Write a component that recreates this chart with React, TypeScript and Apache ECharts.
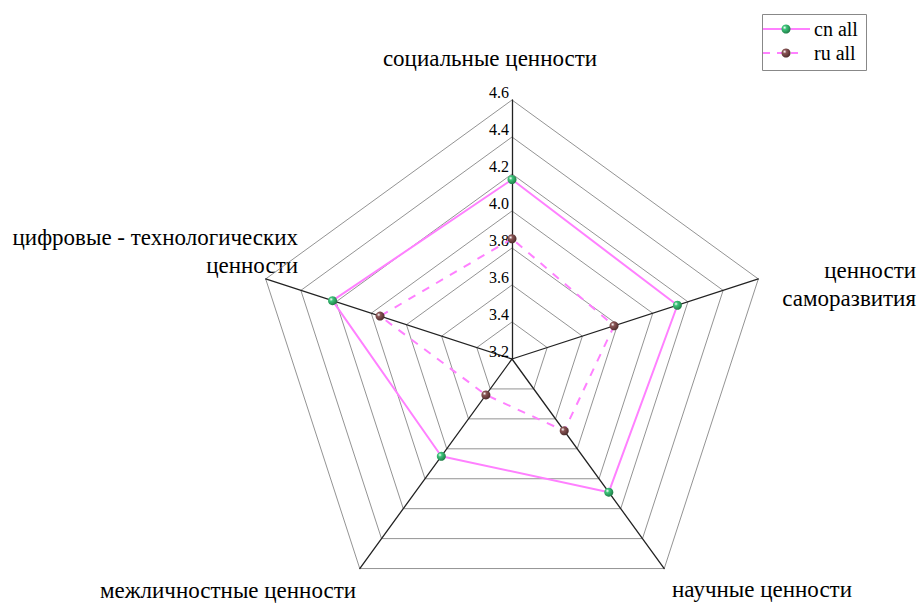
import React, { useEffect, useRef } from "react";
import * as echarts from "echarts";

// Indicators in ECharts order (counter-clockwise from the top)
const categories = [
  "социальные ценности",
  "цифровые - технологических ценности",
  "межличностные ценности",
  "научные ценности",
  "ценности саморазвития",
];
const cnAll = [4.17, 4.22, 3.85, 4.09, 4.14];
const ruAll = [3.85, 3.95, 3.44, 3.68, 3.78];
const seriesNames = ["cn all", "ru all"];
const axisMin = 3.2;
const axisMax = 4.6;
const axisStep = 0.2;

const FONT = "Liberation Serif, serif";
const LINE = "#ff80ff";

const ball = (c1: string, c2: string) => ({
  type: "radial",
  x: 0.35,
  y: 0.35,
  r: 0.7,
  colorStops: [
    { offset: 0, color: "#ffffff" },
    { offset: 0.3, color: c1 },
    { offset: 1, color: c2 },
  ],
});
const greenBall = ball("#3cc47a", "#1f7a45");
const brownBall = ball("#8a5555", "#4a2a2a");

export default function App() {
  const ref = useRef<HTMLDivElement>(null);
  useEffect(() => {
    if (!ref.current) return;
    const chart = echarts.init(ref.current, undefined, { renderer: "svg" });
    const labelPos = [
      { x: 490, y: 58, align: "center" },
      { x: 298, y: 251, align: "right" },
      { x: 228, y: 590, align: "center" },
      { x: 762, y: 589, align: "center" },
      { x: 916, y: 284, align: "right" },
    ];
    const catLabels = categories.map((c, i) => {
      const p = labelPos[i];
      const words =
        i === 4 ? c.replace(" ", "\n") : i === 1 ? c.replace(" ценности", "\nценности") : c;
      return {
        type: "text",
        x: p.x,
        y: p.y,
        style: {
          text: words,
          fontSize: 23,
          fontFamily: FONT,
          fill: "#000",
          align: p.align,
          verticalAlign: "middle",
          lineHeight: 28,
        },
      };
    });
    const legend = [
      {
        type: "rect",
        shape: { x: 762.5, y: 14.5, width: 104, height: 56 },
        style: { fill: "#fff", stroke: "#888", lineWidth: 1 },
      },
      {
        type: "line",
        shape: { x1: 763, y1: 29, x2: 810, y2: 29 },
        style: { stroke: LINE, lineWidth: 2 },
      },
      {
        type: "circle",
        shape: { cx: 786, cy: 29, r: 4.5 },
        style: { fill: greenBall },
      },
      {
        type: "text",
        x: 814,
        y: 29,
        style: { text: seriesNames[0], fontSize: 20, fontFamily: FONT, fill: "#000", verticalAlign: "middle" },
      },
      {
        type: "line",
        shape: { x1: 763, y1: 53, x2: 802, y2: 53 },
        style: { stroke: LINE, lineWidth: 2, lineDash: [7, 7] },
      },
      {
        type: "circle",
        shape: { cx: 786, cy: 53, r: 4.5 },
        style: { fill: brownBall },
      },
      {
        type: "text",
        x: 814,
        y: 53,
        style: { text: seriesNames[1], fontSize: 20, fontFamily: FONT, fill: "#000", verticalAlign: "middle" },
      },
    ];
    chart.setOption({
      animation: false,
      backgroundColor: "#fff",
      textStyle: { fontFamily: FONT },
      radar: {
        center: [512, 359],
        radius: 259,
        startAngle: 90,
        splitNumber: Math.round((axisMax - axisMin) / axisStep),
        shape: "polygon",
        axisName: { show: false },
        axisLine: { lineStyle: { color: "#222", width: 1.3 } },
        splitLine: { lineStyle: { color: "#777", width: 0.8 } },
        splitArea: { show: false },
        axisTick: { show: false },
        axisLabel: { show: false },
        indicator: categories.map((c, i) => ({
          name: c,
          min: axisMin,
          max: axisMax,
          axisLabel:
            i === 0
              ? {
                  show: true,
                  color: "#000",
                  fontFamily: FONT,
                  fontSize: 16,
                  margin: 3,
                  verticalAlign: "bottom",
                  formatter: (v: number) => v.toFixed(1),
                }
              : { show: false },
        })),
      },
      series: [
        {
          type: "radar",
          symbol: "circle",
          symbolSize: 9,
          data: [
            {
              name: seriesNames[0],
              value: cnAll,
              lineStyle: { color: LINE, width: 2, type: "solid" },
              itemStyle: { color: greenBall },
            },
            {
              name: seriesNames[1],
              value: ruAll,
              lineStyle: { color: LINE, width: 2, type: [8, 8] },
              itemStyle: { color: brownBall },
            },
          ],
        },
      ],
      graphic: [...catLabels, ...legend],
    });
    return () => chart.dispose();
  }, []);
  return (
    <div
      ref={ref}
      style={{ position: "fixed", left: 0, top: 0, width: 920, height: 603 }}
    />
  );
}
